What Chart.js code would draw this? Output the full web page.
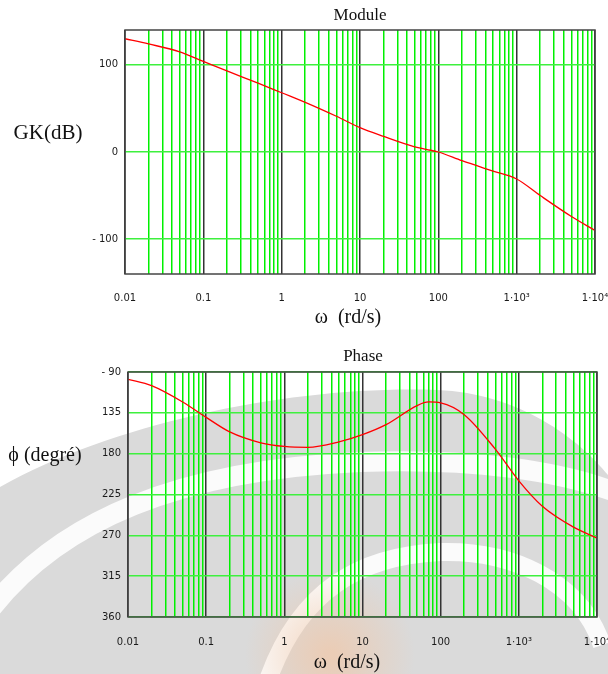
<!DOCTYPE html>
<html lang="fr">
  <head>
    <meta charset="UTF-8" />
    <title>Bode - Module et Phase</title>
    <script src="https://cdn.jsdelivr.net/npm/chart.js"></script>
    <style>
      body {
        margin: 0;
        background: #fff;
        width: 608px;
        height: 674px;
        overflow: hidden;
        position: relative;
      }
      .box {
        position: absolute;
        left: 0;
        width: 608px;
      }
      #moduleBox { top: 0; height: 335px; }
      #phaseBox { top: 335px; height: 339px; }
    </style>
  </head>
  <body>
    <div class="box" id="moduleBox"><canvas id="moduleChart"></canvas></div>
    <div class="box" id="phaseBox"><canvas id="phaseChart"></canvas></div>

    <script>
      // data
      const freqs = [0.01, 0.02, 0.05, 0.1, 0.2, 0.5, 1, 2, 5, 10, 20, 50, 70, 100, 200, 500, 1000, 2000, 5000, 10000];
      const gainDb = [130, 124, 115, 104, 93, 79, 68, 57, 41, 28, 18, 6, 3, 0, -10, -22, -31, -50, -74, -90];
      const phaseDeg = [-98, -105, -123, -140, -156, -168, -172, -173, -167, -159, -148, -127, -123, -124, -137, -175, -210, -238, -261, -273];

      const gainTicks = [-100, 0, 100];
      const phaseTicks = [-90, -135, -180, -225, -270, -315, -360];
      const decades = [0.01, 0.1, 1, 10, 100, 1000, 10000];
      const decadeLabels = ["0.01", "0.1", "1", "10", "100", "1·10³", "1·10⁴"];

      // grid frequencies: 1..9 x each decade
      const gridFreqs = [];
      for (let k = -2; k < 4; k++) {
        for (let m = 1; m < 10; m++) gridFreqs.push(m * Math.pow(10, k));
      }
      gridFreqs.push(10000);

      const isDecade = (v) => {
        const l = Math.log10(v);
        return Math.abs(l - Math.round(l)) < 1e-9;
      };

      const tickFont = { family: "DejaVu Sans", size: 10 };
      const serif = "Liberation Serif";

      function xAxis(height, pad) {
        return {
          type: "logarithmic",
          min: 0.01,
          max: 10000,
          afterBuildTicks: (s) => { s.ticks = gridFreqs.map((v) => ({ value: v })); },
          afterFit: (s) => { s.height = height; s.paddingLeft = 0; s.paddingRight = 0; },
          border: { display: false },
          grid: {
            drawTicks: false,
            color: (c) => (isDecade(c.tick.value) ? "#333" : "#00f000"),
            lineWidth: 1.5,
          },
          ticks: {
            autoSkip: false,
            maxRotation: 0,
            padding: pad,
            color: "#1a1a1a",
            font: tickFont,
            callback: (v) => {
              const i = decades.findIndex((d) => Math.abs(d - v) < d * 1e-6);
              return i >= 0 ? decadeLabels[i] : "";
            },
          },
        };
      }

      function yAxis(min, max, ticks, width, fmt) {
        return {
          min: min,
          max: max,
          afterBuildTicks: (s) => { s.ticks = ticks.map((v) => ({ value: v })); },
          afterFit: (s) => { s.width = width; s.paddingTop = 0; s.paddingBottom = 0; },
          border: { display: false },
          grid: { drawTicks: false, color: "#3ef03e", lineWidth: 1.5 },
          ticks: { padding: 7, color: "#1a1a1a", font: tickFont, callback: fmt },
        };
      }

      // frame + titles
      const frame = {
        id: "frame",
        afterDraw(chart, args, opts) {
          const { ctx, chartArea: a } = chart;
          ctx.save();
          ctx.strokeStyle = "#444";
          ctx.lineWidth = 1.5;
          ctx.strokeRect(a.left, a.top, a.right - a.left, a.bottom - a.top);
          ctx.fillStyle = "#111";
          ctx.textBaseline = "middle";
          ctx.textAlign = "center";
          opts.texts.forEach((t) => {
            ctx.font = t.size + "px '" + serif + "'";
            ctx.fillText(t.text, t.x, t.y);
          });
          ctx.restore();
        },
      };

      // faint watermark behind the phase plot (page coords shifted by the box top)
      const watermark = {
        id: "watermark",
        beforeDraw(chart) {
          const ctx = chart.ctx;
          ctx.save();
          ctx.translate(0, -335);
          ctx.fillStyle = "#dadada";
          ctx.beginPath();
          ctx.moveTo(0, 487);
          ctx.bezierCurveTo(120, 420, 300, 385, 437, 390);
          ctx.bezierCurveTo(520, 393, 580, 440, 608, 475);
          ctx.lineTo(608, 674);
          ctx.lineTo(0, 674);
          ctx.closePath();
          ctx.fill();

          ctx.strokeStyle = "#fbfbfb";
          ctx.lineWidth = 20;
          ctx.beginPath();
          ctx.moveTo(-10, 610);
          ctx.bezierCurveTo(60, 520, 180, 470, 360, 462);
          ctx.bezierCurveTo(470, 458, 560, 470, 620, 494);
          ctx.stroke();

          ctx.lineWidth = 18;
          ctx.beginPath();
          ctx.moveTo(268, 680);
          ctx.bezierCurveTo(300, 590, 360, 556, 440, 552);
          ctx.bezierCurveTo(510, 550, 580, 580, 602, 645);
          ctx.stroke();

          const g = ctx.createRadialGradient(330, 655, 5, 330, 655, 85);
          g.addColorStop(0, "rgba(240,200,170,0.75)");
          g.addColorStop(1, "rgba(240,200,170,0)");
          ctx.fillStyle = g;
          ctx.fillRect(240, 570, 180, 104);
          ctx.restore();
        },
      };

      const line = (ys) => ({
        data: freqs.map((f, i) => ({ x: f, y: ys[i] })),
        borderColor: "#ff0000",
        borderWidth: 1.3,
        pointRadius: 0,
        cubicInterpolationMode: "monotone",
      });

      new Chart(document.getElementById("moduleChart"), {
        type: "line",
        data: { datasets: [line(gainDb)] },
        options: {
          responsive: true,
          maintainAspectRatio: false,
          animation: false,
          layout: { padding: { top: 30, right: 13, bottom: 0, left: 0 } },
          plugins: {
            legend: { display: false },
            tooltip: { enabled: false },
            frame: {
              texts: [
                { text: "Module", x: 360, y: 16, size: 17 },
                { text: "GK(dB)", x: 48, y: 133, size: 21 },
                { text: "ω  (rd/s)", x: 348, y: 318, size: 20 },
              ],
            },
          },
          scales: {
            x: xAxis(61, 18),
            y: yAxis(-140, 140, gainTicks, 125, (v) => (v < 0 ? "- " + -v : String(v))),
          },
        },
        plugins: [frame],
      });

      new Chart(document.getElementById("phaseChart"), {
        type: "line",
        data: { datasets: [line(phaseDeg)] },
        options: {
          responsive: true,
          maintainAspectRatio: false,
          animation: false,
          layout: { padding: { top: 37, right: 11, bottom: 0, left: 0 } },
          plugins: {
            legend: { display: false },
            tooltip: { enabled: false },
            frame: {
              texts: [
                { text: "Phase", x: 363, y: 22, size: 17 },
                { text: "ϕ (degré)", x: 45, y: 121, size: 20 },
                { text: "ω  (rd/s)", x: 347, y: 328, size: 20 },
              ],
            },
          },
          scales: {
            x: xAxis(57, 19),
            y: yAxis(-360, -90, phaseTicks, 128, (v) => (v === -90 ? "- 90" : String(-v))),
          },
        },
        plugins: [watermark, frame],
      });
    </script>
  </body>
</html>
